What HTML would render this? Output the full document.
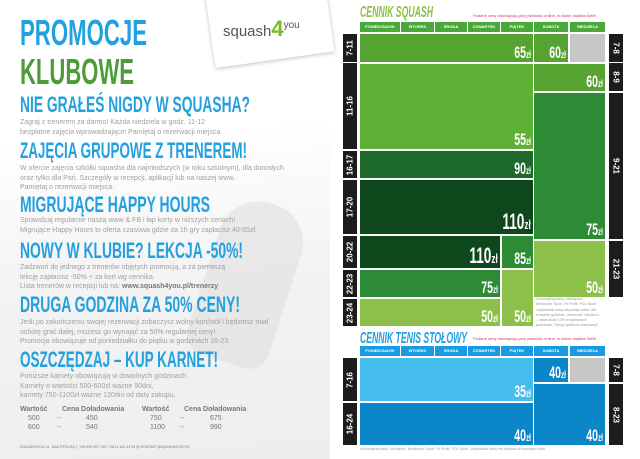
<!DOCTYPE html>
<html><head><meta charset="utf-8">
<style>
*{margin:0;padding:0;box-sizing:border-box}
body{width:640px;height:459px;overflow:hidden;background:#fff;font-family:"Liberation Sans",sans-serif;position:relative}
.a{position:absolute}
.fit{position:absolute;white-space:nowrap;transform-origin:0 0;display:inline-block}
.h{font-weight:bold;color:#22a0e0;font-size:22px;line-height:22px}
.b{font-size:7px;color:#a0a0a0;line-height:9.5px;white-space:nowrap}
.blk{position:absolute}
.pr{position:absolute;right:2px;bottom:1px;color:#fff;font-weight:bold;white-space:nowrap;transform-origin:100% 100%;line-height:1}
.pr small{font-size:60%}
.lab{position:absolute;background:#1c1c1c;color:#fff;font-weight:bold;font-size:8px}
.lab span{position:absolute;left:50%;top:50%;transform:translate(-50%,-50%) rotate(-90deg);white-space:nowrap}
.lab.r span{transform:translate(-50%,-50%) rotate(90deg)}
.day{position:absolute;height:10px;color:#fff;font-size:4px;text-align:center;line-height:10px;font-weight:bold}
</style></head><body>
<div class="a" style="left:0;top:0;width:330px;height:459px;background:linear-gradient(175deg,#fff 0%,#fff 30%,#f3f3f3 60%,#eeeeee 100%)"></div>
<div class="a" style="left:205px;top:200px;width:85px;height:165px;background:#e0e0e0;border-radius:40px 40px 20px 20px;transform:rotate(18deg);opacity:.6"></div>
<div class="a" style="left:210px;top:-12px;width:120px;height:72px;background:#fff;transform:rotate(-8deg);box-shadow:0 1px 4px rgba(0,0,0,.25)"></div>
<div class="a" style="left:223px;top:16px;font-size:15px;color:#555;white-space:nowrap">squash<span style="color:#7ab929;font-weight:bold;font-size:22px">4</span><span style="font-size:10px;position:relative;top:-8px">you</span></div>

<div class="fit h" data-w="127" style="left:20px;top:15px;font-size:36px;line-height:36px">PROMOCJE</div>
<div class="fit h" data-w="114" style="left:20px;top:54px;font-size:36px;line-height:36px;color:#4e9b3a">KLUBOWE</div>

<div class="fit h" data-w="230" style="left:20px;top:94px">NIE GRAŁEŚ NIGDY W SQUASHA?</div>
<div class="a b" style="left:20px;top:118px">Zagraj z trenerem za darmo! Każda niedziela w godz. 11-12<br>bezpłatne zajęcia wprowadzające! Pamiętaj o rezerwacji miejsca</div>

<div class="fit h" data-w="227" style="left:20px;top:140px">ZAJĘCIA GRUPOWE Z TRENEREM!</div>
<div class="a b" style="left:20px;top:164px">W ofercie zajęcia szkółki squasha dla najmłodszych (w roku szkolnym), dla dorosłych<br>oraz tylko dla Pań. Szczegóły w recepcji, aplikacji lub na naszej www.<br>Pamiętaj o rezerwacji miejsca.</div>

<div class="fit h" data-w="190" style="left:20px;top:194px">MIGRUJĄCE HAPPY HOURS</div>
<div class="a b" style="left:20px;top:216px">Sprawdzaj regularnie naszą www &amp; FB i łap korty w niższych cenach!<br>Migrujące Happy Hours to oferta czasowa gdzie za 1h gry zapłacisz 40-55zł.</div>

<div class="fit h" data-w="223" style="left:20px;top:240px">NOWY W KLUBIE? LEKCJA -50%!</div>
<div class="a b" style="left:20px;top:263px">Zadzwoń do jednego z trenerów objętych promocją, a za pierwszą<br>lekcję zapłacisz -50% + za kort wg cennika.<br>Lista trenerów w recepcji lub na: <b style="color:#777">www.squash4you.pl/trenerzy</b></div>

<div class="fit h" data-w="220" style="left:20px;top:294px">DRUGA GODZINA ZA 50% CENY!</div>
<div class="a b" style="left:20px;top:318px">Jeśli po zakończeniu swojej rezerwacji zobaczysz wolny kort/stół i będziesz miał<br>ochotę grać dalej, możesz go wynająć za 50% regularnej ceny!<br>Promocja obowiązuje od poniedziałku do piątku w godzinach 16-23.</div>

<div class="fit h" data-w="198" style="left:20px;top:349px">OSZCZĘDZAJ – KUP KARNET!</div>
<div class="a b" style="left:20px;top:372px">Poniższe karnety obowiązują w dowolnych godzinach.<br>Karnety o wartości 500-600zł ważne 90dni,<br>karnety 750-1100zł ważne 120dni od daty zakupu.</div>

<div class="a" style="left:20px;top:405px;font-size:7px;color:#777;line-height:9px">
<div class="a" style="left:0;top:0;font-weight:bold;white-space:nowrap">Wartość</div>
<div class="a" style="left:42px;top:0;font-weight:bold;white-space:nowrap">Cena Doładowania</div>
<div class="a" style="left:122px;top:0;font-weight:bold;white-space:nowrap">Wartość</div>
<div class="a" style="left:164px;top:0;font-weight:bold;white-space:nowrap">Cena Doładowania</div>
<div class="a" style="left:8px;top:9px">500<br>600</div><div class="a" style="left:35px;top:8px">→<br>→</div><div class="a" style="left:66px;top:9px">450<br>540</div>
<div class="a" style="left:130px;top:9px">750<br>1100</div><div class="a" style="left:158px;top:8px">→<br>→</div><div class="a" style="left:190px;top:9px">675<br>990</div>
</div>
<div class="a" style="left:20px;top:445px;font-size:3.5px;color:#777;white-space:nowrap">SQUASH4YOU UL. NAD STRUGĄ 7, +48 690 497 133, +48 12 442 44 95 @ KONTAKT@SQUASH4YOU.PL</div>

<div class="fit h" data-w="73" style="left:360px;top:5px;font-size:16px;line-height:16px;color:#8dc04a;font-style:italic">CENNIK SQUASH</div>
<div class="a" style="left:473px;top:13px;font-size:4px;color:#d6336c;white-space:nowrap">Podane ceny obowiązują przy płatności online, w klubie dopłata 5zł/h!</div>
<div id="sq"></div>
<div class="a" style="left:536px;top:297px;font-size:3.6px;line-height:5.3px;color:#999;white-space:nowrap">Honorujemy karty: Multisport,<br>Medicover Sport, Fit Profit, PZU Sport.<br>Użytkownik karty otrzymuje rabat 15zł<br>w każdej godzinie. Uczniowie i studenci<br>– rabat około 10% w wybranych<br>godzinach. Sprzęt gratis do rezerwacji!</div>

<div class="fit h" data-w="107" style="left:360px;top:331px;font-size:16px;line-height:16px;color:#22a0e0;font-style:italic">CENNIK TENIS STOŁOWY</div>
<div class="a" style="left:473px;top:336px;font-size:4px;color:#d6336c;white-space:nowrap">Podane ceny obowiązują przy płatności online, w klubie dopłata 5zł/h!</div>
<div class="a" style="left:360px;top:447px;font-size:3.6px;color:#999;white-space:nowrap">Honorujemy karty: Multisport, Medicover Sport, Fit Profit, PZU Sport. Użytkownik karty nie dopłaca do wynajmu stołu.</div>

<script>
const days=["PONIEDZIAŁEK","WTOREK","ŚRODA","CZWARTEK","PIĄTEK","SOBOTA","NIEDZIELA"];
const dayX=[[360,400],[401,434],[435,467],[468,500],[501,533],[534,568],[570,605]];
const sqLeft=[["7-11",34,62],["11-16",63,149],["16-17",151,178],["17-20",180,234],["20-22",236,268],["22-23",270,297],["23-24",299,326]];
const sqRight=[["7-8",34,62],["8-9",63,91],["9-21",93,239],["21-23",241,297]];
const sqBlocks=[
[360,533,34,62,"#57a332","65","block-mf-7-11"],
[360,533,64,149,"#5db135","55","block-mf-11-16"],
[360,533,151,178,"#1d6a2b","90","block-mf-16-17"],
[360,533,180,234,"#0e471c","110","block-mf-17-20"],
[360,500,236,268,"#0e471c","110","block-mf-20-22"],
[502,533,236,268,"#2e8b35","85","block-fri-20-22"],
[360,500,270,297,"#2e8b35","75","block-mf-22-23"],
[360,500,299,326,"#8dc04a","50","block-mf-23-24"],
[502,533,270,326,"#8dc04a","50","block-fri-22-24"],
[534,568,34,62,"#57a332","60","block-sat-7-8"],
[570,605,34,62,"#c6c6c6","","block-sun-7-8-closed"],
[534,605,64,91,"#57a332","60","block-we-8-9"],
[534,605,93,239,"#2e8b35","75","block-we-9-21"],
[534,605,241,297,"#8dc04a","50","block-we-21-23"]];
const tLeft=[["7-16",358,401],["16-24",403,445]];
const tRight=[["7-8",358,382],["8-23",384,445]];
const tBlocks=[
[360,533,358,401,"#45bdee","35","tenis-mf-7-16"],
[360,533,403,445,"#0b87c9","40","tenis-mf-16-24"],
[534,568,358,382,"#0b87c9","40","tenis-sat-7-8"],
[570,605,358,382,"#c6c6c6","","tenis-sun-7-8-closed"],
[534,605,384,445,"#0b87c9","40","tenis-we-8-23"]];
const root=document.getElementById('sq');
function header(y,col,pfx){days.forEach((d,i)=>{const e=document.createElement('div');e.className='day';


e.style.cssText=`left:${dayX[i][0]}px;top:${y}px;width:${dayX[i][1]-dayX[i][0]}px;background:${col}`;e.textContent=d;root.appendChild(e);});}
function labels(arr,x,right,pfx){arr.forEach(l=>{const e=document.createElement('div');e.className='lab'+(right?' r':'');


e.style.cssText=`left:${x}px;top:${l[1]}px;width:14px;height:${l[2]-l[1]}px`;e.innerHTML='<span>'+l[0]+'</span>';root.appendChild(e);});}
function blocks(arr){arr.forEach(b=>{const e=document.createElement('div');e.className='blk';


e.style.cssText=`left:${b[0]}px;top:${b[2]}px;width:${b[1]-b[0]}px;height:${b[3]-b[2]}px;background:${b[4]}`;
if(b[5]){const p=document.createElement('div');p.className='pr';


p.style.fontSize=(b[5].length>2?22:17)+'px';p.style.transform='scaleX(0.62)';p.innerHTML=b[5]+'<small>zł</small>';e.appendChild(p);}
root.appendChild(e);});}
header(22,'#4aa83a','squash');labels(sqLeft,343,false,'squash-hours');labels(sqRight,609,true,'squash-weekend-hours');blocks(sqBlocks);
header(346,'#1a9ae0','tenis');labels(tLeft,343,false,'tenis-hours');labels(tRight,609,true,'tenis-weekend-hours');blocks(tBlocks);
document.querySelectorAll('.fit').forEach(e=>{const w=+e.dataset.w;const r=e.getBoundingClientRect().width;e.style.transform=`scaleX(${w/r})`;});
</script>
</body></html>
